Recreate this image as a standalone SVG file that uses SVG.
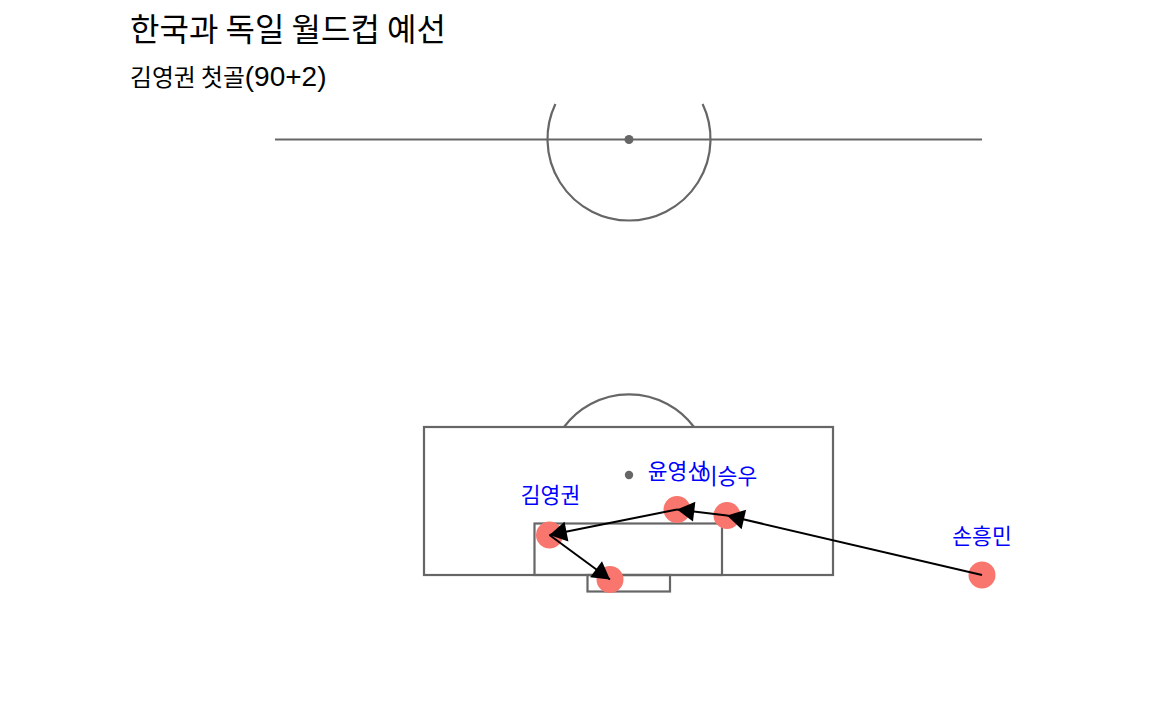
<svg xmlns="http://www.w3.org/2000/svg" width="1152" height="711" viewBox="0 0 1152 711">
  <style>
    .pitch { fill: none; stroke: #666666; stroke-width: 2.2; }
    .spot { fill: #666666; }
    .player { fill: #F8766D; }
    .lbl { font-family: "Noto Sans CJK KR", "Noto Sans CJK SC", sans-serif; font-size: 21.5px; fill: #0000FF; text-anchor: middle; }
    .pass { stroke: #000000; stroke-width: 2; fill: none; marker-end: url(#ah); }
    .title { font-family: "Noto Sans CJK KR", "Noto Sans CJK SC", sans-serif; font-size: 32px; fill: #000000; }
    .sub { font-family: "Noto Sans CJK KR", "Noto Sans CJK SC", sans-serif; font-size: 23.8px; fill: #000000; }
    .num { font-family: "Liberation Sans", Arial, sans-serif; font-size: 28px; }
  </style>
  <defs>
    <marker id="ah" markerUnits="userSpaceOnUse" markerWidth="20" markerHeight="22" viewBox="-18 -11 20 22" refX="0" refY="0" orient="auto">
      <path d="M0,0 L-17.3,-10 L-17.3,10 Z" fill="#000000"/>
    </marker>
  </defs>
  <rect width="1152" height="711" fill="#FFFFFF"/>

  <text class="title" x="130" y="41">한국과 독일 월드컵 예선</text>
  <text class="sub" x="130" y="86">김영권 첫골<tspan class="num">(90+2)</tspan></text>

  <g id="pitch-top">
    <path class="pitch" d="M275,139.5 L982,139.5"/>
    <path class="pitch" d="M555.4,104 A81.5,81.5 0 1 0 702.6,104"/>
    <circle class="spot" cx="629" cy="139.5" r="4.5"/>
  </g>

  <g id="pitch-bottom">
    <path class="pitch" d="M564,427 A81,81 0 0 1 694,427"/>
    <rect class="pitch" x="424" y="427" width="409" height="148"/>
    <rect class="pitch" x="534.5" y="523.5" width="187.5" height="51.5"/>
    <rect class="pitch" x="587.5" y="575" width="82.5" height="16.5"/>
    <circle class="spot" cx="629" cy="475" r="4.2"/>
  </g>

  <g id="player-son">
    <circle class="player" cx="982" cy="575" r="13.5"/>
    <text class="lbl" x="982" y="544">손흥민</text>
  </g>
  <g id="player-lee">
    <circle class="player" cx="727" cy="515.5" r="13.5"/>
    <text class="lbl" x="727.5" y="484">이승우</text>
  </g>
  <g id="player-yoon">
    <circle class="player" cx="677" cy="509.5" r="13.5"/>
    <text class="lbl" x="677.5" y="479">윤영선</text>
  </g>
  <g id="player-kim">
    <circle class="player" cx="549.5" cy="535" r="13.5"/>
    <text class="lbl" x="550.5" y="503">김영권</text>
  </g>
  <g id="player-goal">
    <circle class="player" cx="610" cy="579.5" r="13.5"/>
  </g>

  <g id="connectors">
    <line class="pass" x1="982" y1="575" x2="727" y2="515.5"/>
    <line class="pass" x1="727" y1="515.5" x2="677" y2="509.5"/>
    <line class="pass" x1="677" y1="509.5" x2="549.5" y2="535"/>
    <line class="pass" x1="549.5" y1="535" x2="610" y2="579.5"/>
  </g>
</svg>
